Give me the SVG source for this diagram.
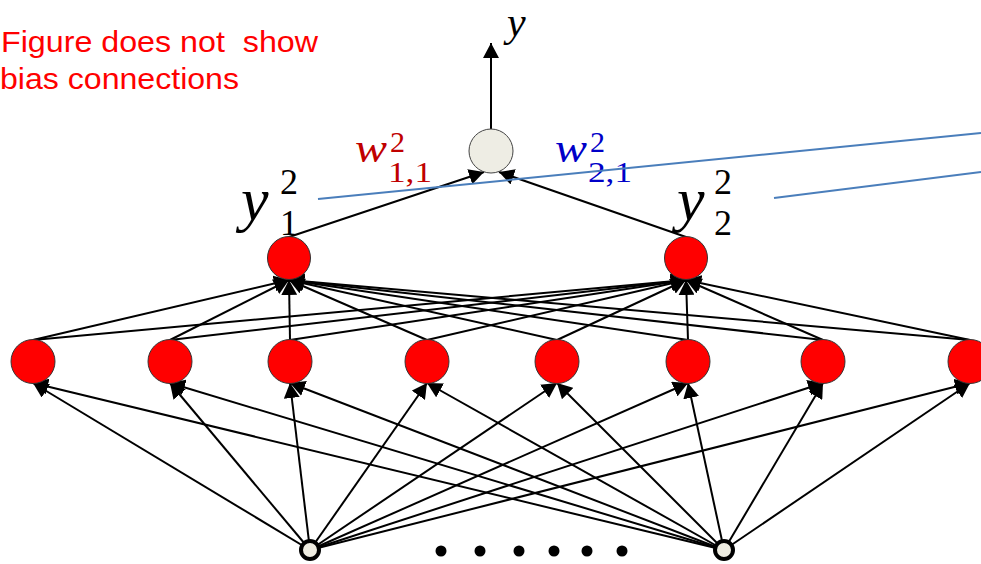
<svg xmlns="http://www.w3.org/2000/svg" width="981" height="564" viewBox="0 0 981 564">
<style>
.c{stroke:#000;stroke-width:2;fill:none;marker-end:url(#ah)}
.red{fill:#FF0000;stroke:#333;stroke-width:1}
.inp{fill:#EEECE1;stroke:#000;stroke-width:4}
.out{fill:#EEEDE4;stroke:#444;stroke-width:1}
.dot{fill:#000}
.note{font-family:"Liberation Sans","Noto Sans",sans-serif;font-size:29px;fill:#FF0000}
.mi{font-family:"Liberation Serif",serif;font-style:italic}
.mn{font-family:"Liberation Serif",serif}
.bl{stroke:#4A7EBB;stroke-width:2;fill:none}
</style>
<defs>
<marker id="ah" markerUnits="userSpaceOnUse" markerWidth="16" markerHeight="16" refX="15" refY="8" orient="auto">
<path d="M0,0 L15,8 L0,16 z" fill="#000"/>
</marker>
</defs>
<g id="connectors">
<line class="c" x1="310" y1="550" x2="33" y2="383"/>
<line class="c" x1="310" y1="550" x2="170" y2="383"/>
<line class="c" x1="310" y1="550" x2="290" y2="383"/>
<line class="c" x1="310" y1="550" x2="427" y2="383"/>
<line class="c" x1="310" y1="550" x2="557" y2="383"/>
<line class="c" x1="310" y1="550" x2="688" y2="383"/>
<line class="c" x1="310" y1="550" x2="823" y2="383"/>
<line class="c" x1="310" y1="550" x2="970" y2="383"/>
<line class="c" x1="724" y1="550" x2="33" y2="383"/>
<line class="c" x1="724" y1="550" x2="170" y2="383"/>
<line class="c" x1="724" y1="550" x2="290" y2="383"/>
<line class="c" x1="724" y1="550" x2="427" y2="383"/>
<line class="c" x1="724" y1="550" x2="557" y2="383"/>
<line class="c" x1="724" y1="550" x2="688" y2="383"/>
<line class="c" x1="724" y1="550" x2="823" y2="383"/>
<line class="c" x1="724" y1="550" x2="970" y2="383"/>
<line class="c" x1="33" y1="340" x2="289" y2="280"/>
<line class="c" x1="170" y1="340" x2="289" y2="280"/>
<line class="c" x1="290" y1="340" x2="289" y2="280"/>
<line class="c" x1="427" y1="340" x2="289" y2="280"/>
<line class="c" x1="557" y1="340" x2="289" y2="280"/>
<line class="c" x1="688" y1="340" x2="289" y2="280"/>
<line class="c" x1="823" y1="340" x2="289" y2="280"/>
<line class="c" x1="970" y1="340" x2="289" y2="280"/>
<line class="c" x1="33" y1="340" x2="686" y2="280"/>
<line class="c" x1="170" y1="340" x2="686" y2="280"/>
<line class="c" x1="290" y1="340" x2="686" y2="280"/>
<line class="c" x1="427" y1="340" x2="686" y2="280"/>
<line class="c" x1="557" y1="340" x2="686" y2="280"/>
<line class="c" x1="688" y1="340" x2="686" y2="280"/>
<line class="c" x1="823" y1="340" x2="686" y2="280"/>
<line class="c" x1="970" y1="340" x2="686" y2="280"/>
<line class="c" x1="289" y1="237" x2="484" y2="172"/>
<line class="c" x1="686" y1="237" x2="499" y2="172"/>
<line class="c" x1="491" y1="129" x2="491" y2="43"/>
</g>
<g id="output">
<circle class="out" cx="491" cy="151" r="22"/>
</g>
<g id="h2-1"><circle class="red" cx="289" cy="258" r="21.5"/></g>
<g id="h2-2"><circle class="red" cx="686" cy="258" r="21.5"/></g>
<g id="h1-1"><circle class="red" cx="33" cy="361.5" r="22"/></g>
<g id="h1-2"><circle class="red" cx="170" cy="361.5" r="22"/></g>
<g id="h1-3"><circle class="red" cx="290" cy="361.5" r="22"/></g>
<g id="h1-4"><circle class="red" cx="427" cy="361.5" r="22"/></g>
<g id="h1-5"><circle class="red" cx="557" cy="361.5" r="22"/></g>
<g id="h1-6"><circle class="red" cx="688" cy="361.5" r="22"/></g>
<g id="h1-7"><circle class="red" cx="823" cy="361.5" r="22"/></g>
<g id="h1-8"><circle class="red" cx="970" cy="361.5" r="22"/></g>
<g id="in-1"><circle class="inp" cx="310" cy="550" r="9"/></g>
<g id="in-2"><circle class="inp" cx="724" cy="550" r="9"/></g>
<g id="dots">
<circle class="dot" cx="441" cy="551" r="5.5"/>
<circle class="dot" cx="480" cy="551" r="5.5"/>
<circle class="dot" cx="519" cy="551" r="5.5"/>
<circle class="dot" cx="554" cy="551" r="5.5"/>
<circle class="dot" cx="587" cy="551" r="5.5"/>
<circle class="dot" cx="622" cy="551" r="5.5"/>
</g>
<g id="note">
<text class="note" x="1" y="52" textLength="317" lengthAdjust="spacingAndGlyphs" xml:space="preserve">Figure does not  show</text>
<text class="note" x="0" y="89" textLength="239" lengthAdjust="spacingAndGlyphs">bias connections</text>
</g>
<g id="labels">
<text class="mi" x="507" y="36" font-size="42">y</text>
<text class="mi" x="355" y="162" font-size="40" fill="#C00000" textLength="32" lengthAdjust="spacingAndGlyphs">w</text>
<text class="mn" x="390" y="152" font-size="30" fill="#C00000">2</text>
<text class="mn" x="388" y="182" font-size="30" fill="#C00000" textLength="44" lengthAdjust="spacingAndGlyphs">1,1</text>
<text class="mi" x="555" y="162" font-size="40" fill="#0000C8" textLength="32" lengthAdjust="spacingAndGlyphs">w</text>
<text class="mn" x="590" y="152" font-size="30" fill="#0000C8">2</text>
<text class="mn" x="588" y="182" font-size="30" fill="#0000C8" textLength="44" lengthAdjust="spacingAndGlyphs">2,1</text>
<text class="mi" x="241" y="220" font-size="62">y</text>
<text class="mn" x="280" y="194" font-size="36">2</text>
<text class="mn" x="280" y="235" font-size="36">1</text>
<text class="mi" x="677" y="220" font-size="62">y</text>
<text class="mn" x="714" y="194" font-size="36">2</text>
<text class="mn" x="714" y="235" font-size="36">2</text>
</g>
<g id="guides">
<line class="bl" x1="318" y1="199" x2="981" y2="133"/>
<line class="bl" x1="774" y1="198" x2="981" y2="172"/>
</g>
</svg>
